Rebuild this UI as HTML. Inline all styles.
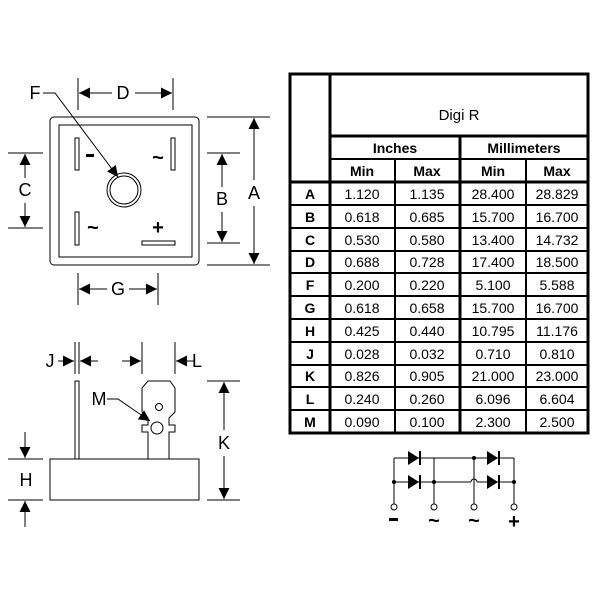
<!DOCTYPE html>
<html><head><meta charset="utf-8"><style>
body{margin:0;background:#fff}
svg{display:block}
text{font-family:"Liberation Sans",Arial,sans-serif;fill:#000}
</style></head><body>
<svg width="600" height="600" viewBox="0 0 600 600" xmlns="http://www.w3.org/2000/svg">
<defs>
<marker id="ar" viewBox="0 0 10 10" refX="10" refY="5" markerWidth="11" markerHeight="11" orient="auto" markerUnits="userSpaceOnUse"><path d="M0,0 L10,5 L0,10 z" fill="#000"/></marker>
</defs>
<g stroke="#000" stroke-width="1" fill="none">
<rect x="50" y="117" width="149" height="148" rx="4"/>
<rect x="59" y="125" width="133" height="132"/>
<rect x="75" y="138" width="4" height="32"/>
<rect x="171" y="138" width="4" height="32"/>
<rect x="75" y="212" width="4" height="33"/>
<rect x="142" y="241" width="33" height="4"/>
<circle cx="124" cy="190" r="17"/>
<circle cx="124" cy="190" r="14"/>
<line x1="78" y1="78" x2="78" y2="110"/><line x1="173" y1="78" x2="173" y2="110"/>
<line x1="112" y1="93" x2="79" y2="93" marker-end="url(#ar)"/>
<line x1="135" y1="93" x2="172" y2="93" marker-end="url(#ar)"/>
<polyline points="43,93 55,93 118,177" marker-end="url(#ar)"/>
<line x1="8" y1="153" x2="43" y2="153"/><line x1="8" y1="228" x2="43" y2="228"/>
<line x1="25" y1="178" x2="25" y2="154" marker-end="url(#ar)"/>
<line x1="25" y1="203" x2="25" y2="227" marker-end="url(#ar)"/>
<line x1="207" y1="153" x2="240" y2="153"/><line x1="207" y1="243" x2="240" y2="243"/>
<line x1="222" y1="187" x2="222" y2="154" marker-end="url(#ar)"/>
<line x1="222" y1="212" x2="222" y2="242" marker-end="url(#ar)"/>
<line x1="207" y1="117" x2="270" y2="117"/><line x1="207" y1="265" x2="270" y2="265"/>
<line x1="254" y1="180" x2="254" y2="118" marker-end="url(#ar)"/>
<line x1="254" y1="206" x2="254" y2="264" marker-end="url(#ar)"/>
<line x1="78" y1="273" x2="78" y2="305"/><line x1="158" y1="273" x2="158" y2="305"/>
<line x1="107" y1="289" x2="79" y2="289" marker-end="url(#ar)"/>
<line x1="129" y1="289" x2="157" y2="289" marker-end="url(#ar)"/>
<rect x="50" y="459" width="149" height="41"/>
<rect x="75" y="381" width="4" height="78"/>
<path d="M148,459 L148,432 L142,432 L142,425 L148,425 L148,418 L142,412 L142,388 L148,381 L170,381 L175,388 L175,412 L169,418 L169,425 L175,425 L175,432 L169,432 L169,459"/>
<circle cx="159" cy="407" r="3.5"/>
<circle cx="157" cy="428" r="6"/>
<polyline points="107,399 118,399 150,421" marker-end="url(#ar)"/>
<line x1="75" y1="342" x2="75" y2="374"/><line x1="79" y1="342" x2="79" y2="374"/>
<line x1="58" y1="361" x2="74" y2="361" marker-end="url(#ar)"/>
<line x1="98" y1="361" x2="80" y2="361" marker-end="url(#ar)"/>
<line x1="142" y1="342" x2="142" y2="374"/><line x1="175" y1="342" x2="175" y2="374"/>
<line x1="122" y1="361" x2="141" y2="361" marker-end="url(#ar)"/>
<line x1="194" y1="361" x2="176" y2="361" marker-end="url(#ar)"/>
<line x1="207" y1="381" x2="240" y2="381"/><line x1="207" y1="500" x2="240" y2="500"/>
<line x1="224" y1="430" x2="224" y2="382" marker-end="url(#ar)"/>
<line x1="224" y1="456" x2="224" y2="499" marker-end="url(#ar)"/>
<line x1="8" y1="459" x2="43" y2="459"/><line x1="8" y1="500" x2="43" y2="500"/>
<line x1="25" y1="432" x2="25" y2="458" marker-end="url(#ar)"/>
<line x1="25" y1="527" x2="25" y2="501" marker-end="url(#ar)"/>
</g>
<g font-size="18" text-anchor="middle">
<text x="123" y="99">D</text><text x="35" y="99">F</text>
<text x="25" y="196">C</text><text x="222" y="205">B</text>
<text x="254" y="199">A</text><text x="118" y="295">G</text>
<text x="99" y="405">M</text><text x="50" y="367">J</text>
<text x="197" y="367">L</text><text x="224" y="449">K</text>
<text x="26" y="486">H</text>
</g>
<rect x="86" y="154" width="8" height="3" fill="#000"/>
<g font-size="20" font-weight="bold" text-anchor="middle">
<text x="158" y="164">~</text>
<text x="93" y="234">~</text><text x="158" y="234">+</text>
</g>
<g stroke="#000" fill="none">
<rect x="290" y="74" width="298" height="359" stroke-width="3"/>
<line x1="330" y1="74" x2="330" y2="433" stroke-width="3"/>
<line x1="330" y1="136" x2="588" y2="136" stroke-width="3"/>
<line x1="330" y1="159" x2="588" y2="159" stroke-width="2"/>
<line x1="290" y1="182" x2="588" y2="182" stroke-width="3"/>
<line x1="460" y1="136" x2="460" y2="433" stroke-width="3"/>
<line x1="395" y1="159" x2="395" y2="433" stroke-width="2"/>
<line x1="526" y1="159" x2="526" y2="433" stroke-width="2"/>
<g stroke-width="2">
<line x1="290" y1="205" x2="588" y2="205"/><line x1="290" y1="228" x2="588" y2="228"/>
<line x1="290" y1="251" x2="588" y2="251"/><line x1="290" y1="273" x2="588" y2="273"/>
<line x1="290" y1="296" x2="588" y2="296"/><line x1="290" y1="319" x2="588" y2="319"/>
<line x1="290" y1="342" x2="588" y2="342"/><line x1="290" y1="365" x2="588" y2="365"/>
<line x1="290" y1="387" x2="588" y2="387"/><line x1="290" y1="410" x2="588" y2="410"/>
</g>
</g>
<g font-size="14" text-anchor="middle">
<text x="459" y="120" font-size="15">Digi R</text>
<text x="395" y="153" font-weight="bold">Inches</text><text x="524" y="153" font-weight="bold">Millimeters</text>
<text x="362" y="176" font-weight="bold">Min</text><text x="427" y="176" font-weight="bold">Max</text>
<text x="493" y="176" font-weight="bold">Min</text><text x="557" y="176" font-weight="bold">Max</text>
</g>
<g font-size="14" text-anchor="middle">
<g font-weight="bold"><text x="310" y="199">A</text><text x="310" y="222">B</text><text x="310" y="245">C</text><text x="310" y="267">D</text><text x="310" y="290">F</text><text x="310" y="313">G</text><text x="310" y="336">H</text><text x="310" y="359">J</text><text x="310" y="381">K</text><text x="310" y="404">L</text><text x="310" y="427">M</text></g>
<text x="362" y="199">1.120</text><text x="427" y="199">1.135</text><text x="493" y="199">28.400</text><text x="557" y="199">28.829</text>
<text x="362" y="222">0.618</text><text x="427" y="222">0.685</text><text x="493" y="222">15.700</text><text x="557" y="222">16.700</text>
<text x="362" y="245">0.530</text><text x="427" y="245">0.580</text><text x="493" y="245">13.400</text><text x="557" y="245">14.732</text>
<text x="362" y="267">0.688</text><text x="427" y="267">0.728</text><text x="493" y="267">17.400</text><text x="557" y="267">18.500</text>
<text x="362" y="290">0.200</text><text x="427" y="290">0.220</text><text x="493" y="290">5.100</text><text x="557" y="290">5.588</text>
<text x="362" y="313">0.618</text><text x="427" y="313">0.658</text><text x="493" y="313">15.700</text><text x="557" y="313">16.700</text>
<text x="362" y="336">0.425</text><text x="427" y="336">0.440</text><text x="493" y="336">10.795</text><text x="557" y="336">11.176</text>
<text x="362" y="359">0.028</text><text x="427" y="359">0.032</text><text x="493" y="359">0.710</text><text x="557" y="359">0.810</text>
<text x="362" y="381">0.826</text><text x="427" y="381">0.905</text><text x="493" y="381">21.000</text><text x="557" y="381">23.000</text>
<text x="362" y="404">0.240</text><text x="427" y="404">0.260</text><text x="493" y="404">6.096</text><text x="557" y="404">6.604</text>
<text x="362" y="427">0.090</text><text x="427" y="427">0.100</text><text x="493" y="427">2.300</text><text x="557" y="427">2.500</text>
</g>
<g stroke="#000" stroke-width="1" fill="none">
<line x1="394" y1="458" x2="514" y2="458"/>
<line x1="394" y1="482" x2="471" y2="482"/><path d="M471,482 a3,3 0 0 1 6,0"/><line x1="477" y1="482" x2="514" y2="482"/>
<line x1="394" y1="458" x2="394" y2="504"/>
<line x1="434" y1="458" x2="434" y2="504"/>
<line x1="474" y1="458" x2="474" y2="504"/>
<line x1="514" y1="458" x2="514" y2="504"/>
<circle cx="394" cy="507" r="3"/><circle cx="434" cy="507" r="3"/><circle cx="474" cy="507" r="3"/><circle cx="514" cy="507" r="3"/>
</g>
<g fill="#000">
<path d="M408,451 L419,458 L408,465 z"/><rect x="419" y="451" width="2" height="14"/>
<path d="M408,475 L419,482 L408,489 z"/><rect x="419" y="475" width="2" height="14"/>
<path d="M487,451 L498,458 L487,465 z"/><rect x="498" y="451" width="2" height="14"/>
<path d="M487,475 L498,482 L487,489 z"/><rect x="498" y="475" width="2" height="14"/>
<circle cx="394" cy="482" r="2"/><circle cx="434" cy="482" r="2"/><circle cx="474" cy="458" r="2"/><circle cx="514" cy="482" r="2"/>
<rect x="389" y="518" width="9" height="3"/>
</g>
<g font-size="20" font-weight="bold" text-anchor="middle">
<text x="434" y="527">~</text><text x="474" y="527">~</text><text x="514" y="528">+</text>
</g>
</svg>
</body></html>
